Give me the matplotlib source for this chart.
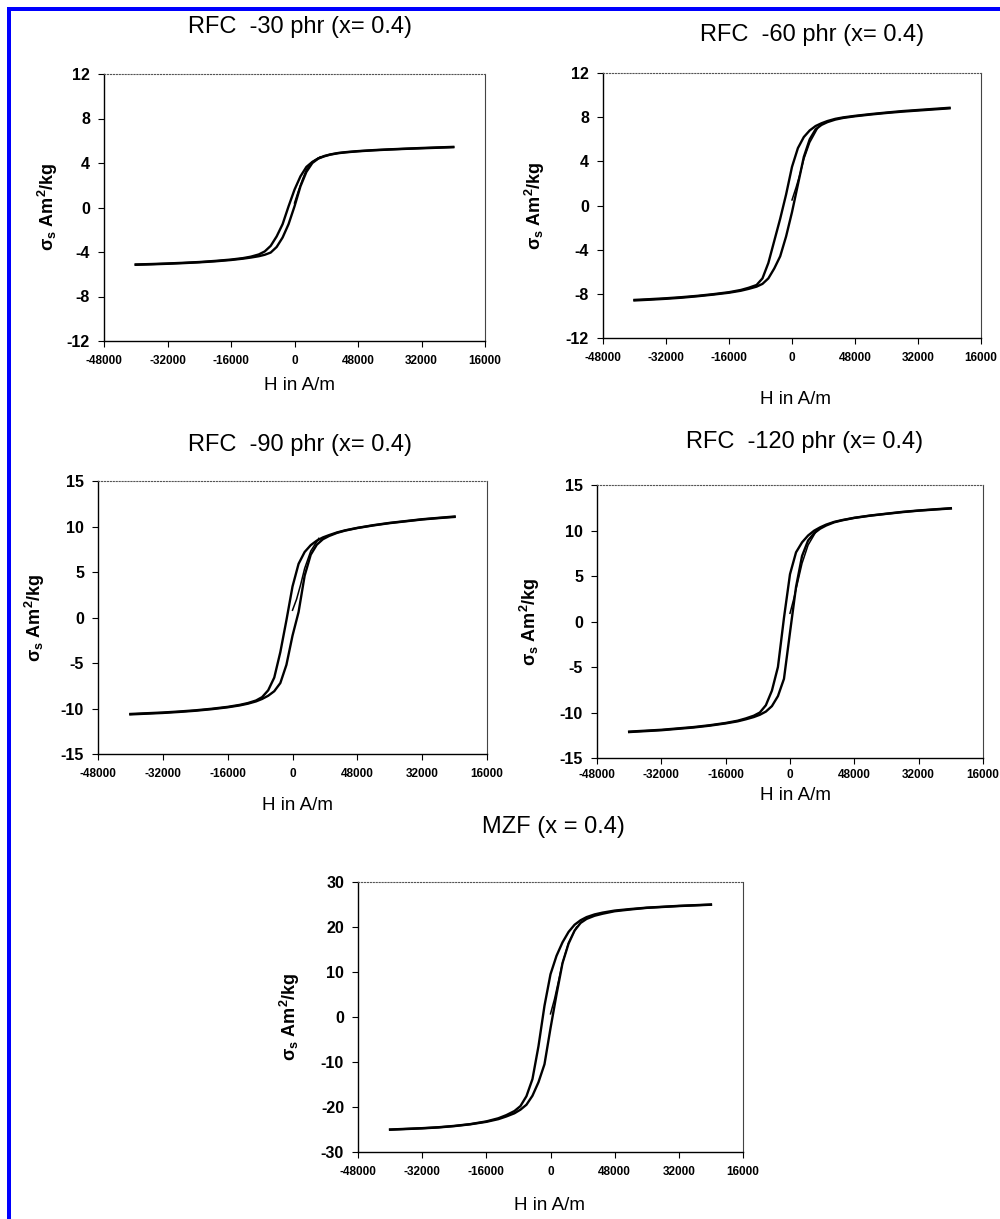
import matplotlib
matplotlib.use("Agg")
import matplotlib.pyplot as plt
from matplotlib.patches import Rectangle

plt.rcParams['font.family'] = ['Liberation Sans', 'DejaVu Sans']

W, H = 1000, 1219

# campo aplicado (A/m) dos ramos do laco e da curva virgem
h_ramo = [-40000, -36000, -32000, -28000, -24000, -20000, -16000, -13000, -11000, -9000,
          -7500, -6000, -4500, -3000, -1500, 0, 1500, 3000, 4500, 6000,
          7500, 9000, 11000, 13000, 16000, 20000, 24000, 28000, 32000, 36000, 40000]
h_virgem = [0, 1000, 2000, 3000, 4500, 6500]

# RFC -30 phr
sup_30 = [-5.12, -5.08, -5.03, -4.97, -4.9, -4.8, -4.68, -4.55, -4.42, -4.22,
          -3.95, -3.45, -2.6, -1.5, 0.1, 1.6, 2.8, 3.65, 4.1, 4.42,
          4.63, 4.77, 4.9, 4.98, 5.07, 5.16, 5.23, 5.29, 5.35, 5.4, 5.45]
inf_30 = [-5.15, -5.11, -5.06, -5.0, -4.93, -4.84, -4.72, -4.6, -4.5, -4.38,
          -4.25, -4.05, -3.55, -2.7, -1.5, 0.1, 1.9, 3.2, 4.0, 4.4,
          4.6, 4.75, 4.88, 4.96, 5.05, 5.14, 5.21, 5.27, 5.32, 5.37, 5.42]
virg_30 = [0.4, 1.5, 2.5, 3.4, 4.1, 4.55]

# RFC -60 phr
sup_60 = [-8.55, -8.48, -8.4, -8.3, -8.18, -8.03, -7.85, -7.65, -7.45, -7.2,
          -6.6, -5.2, -3.2, -1.2, 1.0, 3.5, 5.2, 6.2, 6.8, 7.2,
          7.45, 7.65, 7.85, 7.98, 8.12, 8.28, 8.42, 8.55, 8.65, 8.75, 8.85]
inf_60 = [-8.6, -8.53, -8.45, -8.35, -8.22, -8.07, -7.9, -7.72, -7.55, -7.35,
          -7.1, -6.6, -5.7, -4.6, -2.8, -0.6, 1.9, 4.4, 6.0, 6.9,
          7.3, 7.55, 7.78, 7.93, 8.08, 8.24, 8.38, 8.5, 8.6, 8.7, 8.8]
virg_60 = [0.5, 1.6, 2.8, 4.2, 5.7, 7.0]

# RFC -90 phr
sup_90 = [-10.6, -10.52, -10.44, -10.33, -10.2, -10.03, -9.82, -9.6, -9.4, -9.12,
          -8.75, -8.0, -6.6, -3.8, -0.3, 3.4, 5.9, 7.2, 7.95, 8.45,
          8.8, 9.05, 9.35, 9.58, 9.85, 10.15, 10.4, 10.6, 10.8, 10.95, 11.1]
inf_90 = [-10.65, -10.57, -10.49, -10.38, -10.25, -10.08, -9.87, -9.66, -9.47, -9.22,
          -8.95, -8.6, -8.1, -7.2, -5.2, -2.0, 0.6, 4.6, 6.9, 8.0,
          8.6, 8.95, 9.3, 9.55, 9.83, 10.12, 10.37, 10.57, 10.77, 10.92, 11.05]
virg_90 = [0.8, 2.0, 3.6, 5.4, 7.3, 8.7]

# RFC -120 phr
sup_120 = [-12.1, -12.0, -11.9, -11.75, -11.6, -11.4, -11.15, -10.9, -10.65, -10.35,
           -10.0, -9.2, -7.6, -5.0, 0.4, 5.2, 7.6, 8.7, 9.45, 9.98,
           10.35, 10.65, 10.95, 11.15, 11.4, 11.65, 11.85, 12.05, 12.2, 12.33, 12.45]
inf_120 = [-12.15, -12.05, -11.95, -11.8, -11.65, -11.45, -11.2, -10.97, -10.75, -10.5,
           -10.25, -9.9, -9.3, -8.2, -6.3, -1.2, 3.8, 7.2, 8.9, 9.7,
           10.2, 10.55, 10.9, 11.12, 11.38, 11.63, 11.83, 12.02, 12.18, 12.3, 12.42]
virg_120 = [0.9, 2.6, 4.5, 6.4, 8.4, 9.9]

# MZF
sup_mzf = [-25.0, -24.85, -24.7, -24.5, -24.2, -23.8, -23.2, -22.5, -21.8, -20.9,
           -19.8, -17.6, -13.8, -6.5, 2.5, 9.5, 13.6, 16.6, 18.9, 20.5,
           21.5, 22.2, 22.8, 23.2, 23.65, 24.0, 24.3, 24.5, 24.7, 24.85, 25.0]
inf_mzf = [-25.05, -24.9, -24.75, -24.55, -24.25, -23.85, -23.3, -22.7, -22.1, -21.4,
           -20.6, -19.5, -17.5, -14.5, -10.5, -2.5, 5.0, 12.0, 16.3, 19.2,
           20.9, 21.8, 22.5, 22.95, 23.5, 23.9, 24.25, 24.45, 24.65, 24.8, 24.95]
virg_mzf = [0.7, 4.0, 8.0, 12.0, 16.5, 20.0]

x_ticks = [-48000, -32000, -16000, 0, 16000, 32000, 48000]
x_tick_labels = ['-48000', '-32000', '-16000', '0', '48000', '32000', '16000']

titulos = ['RFC  -30 phr (x= 0.4)', 'RFC  -60 phr (x= 0.4)', 'RFC  -90 phr (x= 0.4)',
           'RFC  -120 phr (x= 0.4)', 'MZF (x = 0.4)']
y_ticks = [[-12, -8, -4, 0, 4, 8, 12], [-12, -8, -4, 0, 4, 8, 12],
           [-15, -10, -5, 0, 5, 10, 15], [-15, -10, -5, 0, 5, 10, 15],
           [-30, -20, -10, 0, 10, 20, 30]]
dados = [(sup_30, inf_30, virg_30), (sup_60, inf_60, virg_60), (sup_90, inf_90, virg_90),
         (sup_120, inf_120, virg_120), (sup_mzf, inf_mzf, virg_mzf)]

# caixa dos eixos em pixels: esquerda, topo, direita, base
caixas = [(104, 74, 485, 341), (603, 73, 981, 338), (98, 481, 487, 754),
          (597, 485, 983, 758), (358, 882, 743, 1152)]
# posicao (px) do titulo, do rotulo x e do rotulo y
pos_titulo = [(300, 27), (812, 35), (300, 445), (805, 442), (553, 827)]
pos_xlabel = [(300, 385), (795, 400), (297, 806), (795, 795), (550, 1205)]
pos_ylabel = [(48, 207), (535, 206), (35, 618), (530, 622), (290, 1017)]
pad_x = [6, 6, 6, 4, 6]

fig = plt.figure(figsize=(W / 100, H / 100), dpi=100)


def fx(px):
    return px / W


def fy(py):
    return 1 - py / H


for i in range(5):
    l, t, r, b = caixas[i]
    ax = fig.add_axes([fx(l), fy(b), (r - l) / W, (b - t) / H])
    sup, inf, virg = dados[i]
    ax.plot(h_ramo, sup, color='black', lw=1.7, solid_joinstyle='round')
    ax.plot(h_ramo, inf, color='black', lw=1.7, solid_joinstyle='round')
    ax.plot(h_virgem, virg, color='black', lw=1.1, solid_joinstyle='round')

    ax.set_xlim(-48000, 48000)
    ax.set_ylim(y_ticks[i][0], y_ticks[i][-1])
    ax.set_xticks(x_ticks)
    ax.set_xticklabels(x_tick_labels, fontsize=8.5, fontweight='bold')
    ax.set_yticks(y_ticks[i])
    ax.set_yticklabels([str(v) for v in y_ticks[i]], fontsize=11.5, fontweight='bold')
    ax.tick_params(direction='out', length=4, width=0.8, pad=6)
    ax.tick_params(axis='x', pad=pad_x[i])

    for lado in ['left', 'bottom']:
        ax.spines[lado].set_linewidth(1.0)
    ax.spines['top'].set_linestyle(':')
    ax.spines['top'].set_color('#555555')
    ax.spines['right'].set_color('#444444')
    ax.spines['right'].set_linewidth(0.8)

    fig.text(fx(pos_titulo[i][0]), fy(pos_titulo[i][1]), titulos[i],
             fontsize=17, ha='center', va='center')
    fig.text(fx(pos_xlabel[i][0]), fy(pos_xlabel[i][1]), 'H in A/m',
             fontsize=13.5, ha='center', va='center')
    fig.text(fx(pos_ylabel[i][0]), fy(pos_ylabel[i][1]),
             r'σ$_\mathregular{s}$ Am$^\mathregular{2}$/kg',
             fontsize=13, fontweight='bold', rotation=90, ha='center', va='center')

# moldura azul (apenas topo e esquerda)
fig.add_artist(Rectangle((fx(7), fy(11)), 1 - fx(7), 4 / H, transform=fig.transFigure,
                         color='#0000ff', lw=0))
fig.add_artist(Rectangle((fx(7), 0), 4 / W, fy(7), transform=fig.transFigure,
                         color='#0000ff', lw=0))

plt.savefig('out.png', dpi=100)
